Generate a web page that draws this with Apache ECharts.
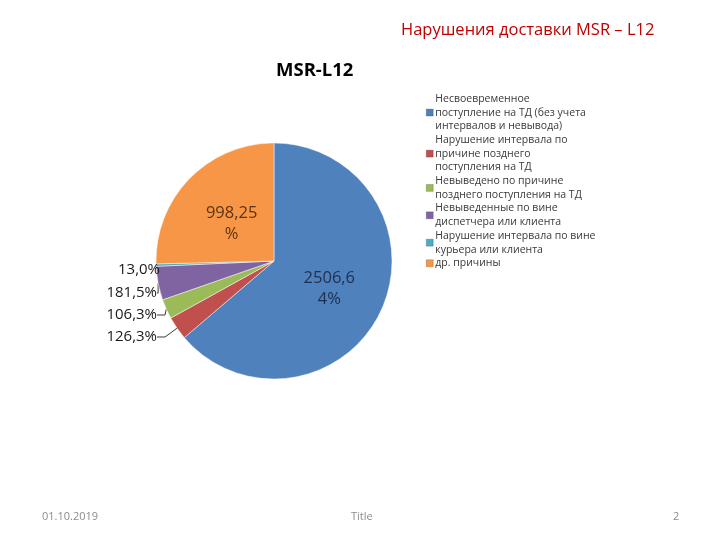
<!DOCTYPE html>
<html>
<head>
<meta charset="utf-8">
<script src="https://cdn.jsdelivr.net/npm/echarts@6/dist/echarts.min.js"></script>
<style>html,body{margin:0;padding:0;background:#fff}#c{width:720px;height:540px}</style>
</head>
<body>
<div id="c"></div>
<script>
const categories = [
  'Несвоевременное поступление на ТД (без учета интервалов и невывода)',
  'Нарушение интервала по причине позднего поступления на ТД',
  'Невыведено по причине позднего поступления на ТД',
  'Невыведенные по вине диспетчера или клиента',
  'Нарушение интервала по вине курьера или клиента',
  'др. причины'
];
const legendLabels = [
  'Несвоевременное\nпоступление на ТД (без учета\nинтервалов и невывода)',
  'Нарушение интервала по\nпричине позднего\nпоступления на ТД',
  'Невыведено по причине\nпозднего поступления на ТД',
  'Невыведенные по вине\nдиспетчера или клиента',
  'Нарушение интервала по вине\nкурьера или клиента',
  'др. причины'
];
const values = [2506.64, 126.3, 106.3, 181.5, 13.0, 998.25];
const valueLabels = ['2506,6\n4%', '126,3%', '106,3%', '181,5%', '13,0%', '998,25\n%'];
const colors = ['#4f81bd', '#c0504d', '#9bbb59', '#8064a2', '#4bacc6', '#f79646'];
const insideLabelColors = ['#1f2f4d', null, null, null, null, '#5a3410'];

// label placement: outside slices (right edge x, centre y), inside labels (nudge)
const outsidePos = {1: [157, 337], 2: [157, 315], 3: [157, 293], 4: [160, 270]};
const insideNudge = {0: [-1, 2], 5: [2, 6]};

const chart = echarts.init(document.getElementById('c'));
const data = categories.map((name, i) => {
  const inside = insideLabelColors[i] !== null;
  return {
    name: name,
    value: values[i],
    itemStyle: {color: colors[i]},
    label: inside
      ? {position: 'inside', color: insideLabelColors[i], fontSize: 16.5, lineHeight: 21}
      : {position: 'outside', color: '#1a1a1a', fontSize: 15},
    labelLine: {show: !inside}
  };
});

chart.setOption({
  animation: false,
  backgroundColor: '#fff',
  legend: {
    orient: 'vertical',
    left: 421,
    top: 87,
    itemWidth: 7,
    itemHeight: 7,
    itemGap: 0,
    icon: 'rect',
    selectedMode: false,
    itemStyle: {borderWidth: 0.5, borderColor: 'rgba(0,0,0,0.35)'},
    formatter: name => legendLabels[categories.indexOf(name)],
    textStyle: {fontFamily: 'Open Sans', fontSize: 10.5, lineHeight: 13.7, color: '#3a3a3a', padding: [0, 0, 0, -3]}
  },
  graphic: [
    {type: 'text', left: 276, top: 61, style: {text: 'MSR-L12', fontFamily: 'Open Sans', fontWeight: 'bold', fontSize: 18.5, fill: '#000'}},
    {type: 'text', left: 401, top: 22, style: {text: 'Нарушения доставки MSR – L12', fontFamily: 'Open Sans', fontSize: 16.5, fill: '#c00000'}},
    {type: 'text', left: 42, top: 511, style: {text: '01.10.2019', fontFamily: 'Open Sans', fontSize: 11, fill: '#8c8c8c'}},
    {type: 'text', left: 351, top: 511, style: {text: 'Title', fontFamily: 'Open Sans', fontSize: 11, fill: '#8c8c8c'}},
    {type: 'text', left: 673, top: 511, style: {text: '2', fontFamily: 'Open Sans', fontSize: 11, fill: '#8c8c8c'}}
  ],
  series: [{
    type: 'pie',
    center: [274, 261],
    radius: 118,
    startAngle: 90,
    clockwise: true,
    avoidLabelOverlap: false,
    itemStyle: {borderColor: 'rgba(255,255,255,0.8)', borderWidth: 0.6},
    label: {
      fontFamily: 'Open Sans',
      formatter: p => valueLabels[p.dataIndex]
    },
    labelLine: {length: 8, length2: 8, lineStyle: {color: '#3a3a3a', width: 1}},
    labelLayout: function (params) {
      const pos = outsidePos[params.dataIndex];
      if (pos) return {x: pos[0], y: pos[1], align: 'right', verticalAlign: 'middle'};
      const n = insideNudge[params.dataIndex];
      if (n) return {dx: n[0], dy: n[1]};
      return {};
    },
    emphasis: {disabled: true},
    data: data
  }]
});
</script>
</body>
</html>
